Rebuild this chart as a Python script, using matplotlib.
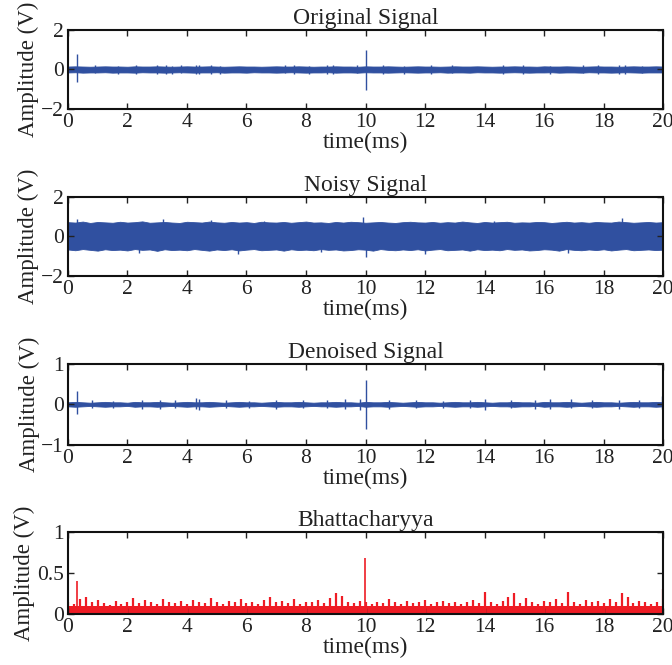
import numpy as np
import matplotlib
matplotlib.use("Agg")
import matplotlib.pyplot as plt

plt.rcParams['font.family'] = ['Liberation Serif', 'DejaVu Serif']

# ---------------- data ----------------
x_ticks = [0, 2, 4, 6, 8, 10, 12, 14, 16, 18, 20]
titles = ["Original Signal", "Noisy Signal", "Denoised Signal", "Bhattacharyya"]

# Original signal: envelope of the dense trace (0..20 ms, 0.25 ms steps)
orig_up = [0.15, 0.16, 0.15, 0.14, 0.15, 0.16, 0.15, 0.15, 0.14, 0.16, 0.15, 0.15, 0.16, 0.15, 0.14, 0.15,
           0.16, 0.15, 0.15, 0.16, 0.15, 0.14, 0.15, 0.16, 0.15, 0.15, 0.14, 0.15, 0.16, 0.15, 0.15, 0.16,
           0.15, 0.14, 0.15, 0.15, 0.16, 0.15, 0.15, 0.14, 0.16, 0.15, 0.15, 0.16, 0.15, 0.14, 0.15, 0.16,
           0.15, 0.15, 0.14, 0.15, 0.16, 0.15, 0.15, 0.16, 0.15, 0.14, 0.15, 0.15, 0.16, 0.15, 0.15, 0.14,
           0.16, 0.15, 0.15, 0.16, 0.15, 0.14, 0.15, 0.16, 0.15, 0.15, 0.14, 0.15, 0.16, 0.15, 0.15, 0.16, 0.15]
orig_lo = [-0.15, -0.14, -0.16, -0.15, -0.15, -0.14, -0.16, -0.15, -0.15, -0.16, -0.14, -0.15, -0.15, -0.16,
           -0.15, -0.14, -0.15, -0.16, -0.15, -0.15, -0.14, -0.16, -0.15, -0.15, -0.16, -0.14, -0.15, -0.15,
           -0.16, -0.15, -0.14, -0.15, -0.16, -0.15, -0.15, -0.14, -0.16, -0.15, -0.15, -0.16, -0.14, -0.15,
           -0.15, -0.16, -0.15, -0.14, -0.15, -0.16, -0.15, -0.15, -0.14, -0.16, -0.15, -0.15, -0.16, -0.14,
           -0.15, -0.15, -0.16, -0.15, -0.14, -0.15, -0.16, -0.15, -0.15, -0.14, -0.16, -0.15, -0.15, -0.16,
           -0.14, -0.15, -0.15, -0.16, -0.15, -0.14, -0.15, -0.16, -0.15, -0.15, -0.15]
orig_spike_t = [0.3, 0.9, 1.7, 2.3, 3.0, 3.3, 3.5, 3.8, 4.3, 4.4, 4.8, 5.1, 7.3, 7.6, 8.1, 8.7, 8.9, 9.7,
                10.0, 10.6, 11.3, 12.2, 12.9, 14.6, 15.3, 16.2, 17.3, 17.8, 18.5, 18.7, 19.3]
orig_spike_top = [0.77, 0.22, 0.20, 0.22, 0.21, 0.23, 0.20, 0.22, 0.21, 0.23, 0.22, 0.20, 0.21, 0.22, 0.20,
                  0.22, 0.21, 0.23, 0.99, 0.22, 0.20, 0.22, 0.21, 0.23, 0.22, 0.20, 0.21, 0.22, 0.22, 0.21, 0.20]
orig_spike_bot = [-0.62, -0.20, -0.22, -0.21, -0.23, -0.24, -0.22, -0.20, -0.21, -0.23, -0.22, -0.24, -0.20,
                  -0.22, -0.21, -0.23, -0.22, -0.20, -1.04, -0.22, -0.21, -0.23, -0.20, -0.24, -0.22, -0.21,
                  -0.20, -0.23, -0.22, -0.21, -0.20]

# Noisy signal envelope (0.25 ms steps)
noisy_up = [0.72, 0.70, 0.75, 0.68, 0.73, 0.71, 0.69, 0.74, 0.70, 0.72, 0.76, 0.69, 0.71, 0.73, 0.70, 0.68,
            0.74, 0.72, 0.70, 0.75, 0.71, 0.69, 0.73, 0.70, 0.72, 0.68, 0.74, 0.71, 0.70, 0.73, 0.69, 0.72,
            0.75, 0.70, 0.71, 0.68, 0.73, 0.70, 0.74, 0.72, 0.69, 0.71, 0.73, 0.70, 0.68, 0.72, 0.74, 0.71,
            0.70, 0.73, 0.69, 0.72, 0.70, 0.75, 0.71, 0.68, 0.73, 0.70, 0.72, 0.74, 0.69, 0.71, 0.70, 0.73,
            0.72, 0.68, 0.71, 0.74, 0.70, 0.72, 0.69, 0.73, 0.71, 0.70, 0.75, 0.72, 0.69, 0.71, 0.73, 0.70, 0.72]
noisy_lo = [-0.66, -0.70, -0.64, -0.68, -0.72, -0.65, -0.69, -0.67, -0.71, -0.64, -0.68, -0.66, -0.73,
            -0.65, -0.69, -0.67, -0.70, -0.64, -0.68, -0.72, -0.66, -0.69, -0.65, -0.71, -0.67, -0.64, -0.70,
            -0.68, -0.66, -0.72, -0.65, -0.69, -0.67, -0.70, -0.64, -0.68, -0.66, -0.71, -0.69, -0.65, -0.67,
            -0.72, -0.64, -0.68, -0.70, -0.66, -0.69, -0.65, -0.71, -0.67, -0.64, -0.70, -0.68, -0.66, -0.72,
            -0.65, -0.69, -0.67, -0.70, -0.64, -0.68, -0.66, -0.71, -0.69, -0.65, -0.67, -0.72, -0.64, -0.68,
            -0.70, -0.66, -0.69, -0.65, -0.71, -0.67, -0.64, -0.70, -0.68, -0.66, -0.69, -0.67]
noisy_spike_t = [0.3, 3.2, 4.8, 6.6, 9.9, 14.3, 18.6, 2.4, 5.7, 8.5, 10.0, 12.0, 16.8]
noisy_spike_top = [0.88, 0.88, 0.82, 0.80, 1.00, 0.80, 0.95, 0.0, 0.0, 0.0, 0.0, 0.0, 0.0]
noisy_spike_bot = [0.0, 0.0, 0.0, 0.0, 0.0, 0.0, 0.0, -0.85, -0.88, -0.80, -1.05, -0.90, -0.82]

# Denoised signal envelope (0.25 ms steps)
den_up = [0.05, 0.06, 0.05, 0.04, 0.05, 0.06, 0.05, 0.05, 0.04, 0.06, 0.05, 0.05, 0.06, 0.05, 0.04, 0.05,
          0.06, 0.05, 0.05, 0.06, 0.05, 0.04, 0.05, 0.06, 0.05, 0.05, 0.04, 0.05, 0.06, 0.05, 0.05, 0.06,
          0.05, 0.04, 0.05, 0.05, 0.06, 0.05, 0.05, 0.04, 0.06, 0.05, 0.05, 0.06, 0.05, 0.04, 0.05, 0.06,
          0.05, 0.05, 0.04, 0.05, 0.06, 0.05, 0.05, 0.06, 0.05, 0.04, 0.05, 0.05, 0.06, 0.05, 0.05, 0.04,
          0.06, 0.05, 0.05, 0.06, 0.05, 0.04, 0.05, 0.06, 0.05, 0.05, 0.04, 0.05, 0.06, 0.05, 0.05, 0.06, 0.05]
den_lo = [-v for v in den_up]
den_spike_t = [0.3, 0.8, 1.5, 2.5, 3.1, 3.6, 4.3, 4.4, 5.3, 6.1, 7.0, 7.9, 8.7, 9.3, 9.8, 10.0, 10.8,
               11.7, 12.6, 13.5, 14.0, 14.9, 15.7, 16.2, 16.9, 17.6, 18.5, 19.2, 19.97]
den_spike_top = [0.34, 0.10, 0.09, 0.10, 0.11, 0.10, 0.15, 0.12, 0.10, 0.09, 0.10, 0.11, 0.10, 0.12, 0.14,
                 0.60, 0.11, 0.10, 0.09, 0.10, 0.13, 0.10, 0.11, 0.12, 0.14, 0.10, 0.11, 0.10, 0.20]
den_spike_bot = [-0.25, -0.10, -0.09, -0.11, -0.12, -0.10, -0.12, -0.14, -0.10, -0.09, -0.11, -0.10, -0.10,
                 -0.12, -0.13, -0.60, -0.11, -0.10, -0.09, -0.10, -0.14, -0.10, -0.11, -0.12, -0.10, -0.10,
                 -0.11, -0.10, -0.12]

# Bhattacharyya: solid base level + spike heights (0.2 ms steps) + two peaks
bhat_base = 0.09
bhat_heights = [0.14, 0.12, 0.18, 0.20, 0.15, 0.17, 0.13, 0.11, 0.16, 0.12,
                0.14, 0.19, 0.13, 0.17, 0.15, 0.12, 0.18, 0.14, 0.13, 0.16,
                0.12, 0.17, 0.14, 0.13, 0.19, 0.15, 0.12, 0.16, 0.14, 0.18,
                0.13, 0.15, 0.12, 0.17, 0.20, 0.14, 0.16, 0.13, 0.18, 0.12,
                0.15, 0.14, 0.17, 0.13, 0.19, 0.26, 0.22, 0.15, 0.13, 0.16,
                0.14, 0.12, 0.15, 0.13, 0.18, 0.14, 0.12, 0.16, 0.13, 0.15,
                0.17, 0.12, 0.14, 0.16, 0.13, 0.15, 0.12, 0.14, 0.17, 0.13,
                0.27, 0.14, 0.12, 0.16, 0.20, 0.26, 0.13, 0.19, 0.15, 0.12,
                0.16, 0.14, 0.18, 0.13, 0.27, 0.15, 0.12, 0.17, 0.14, 0.16,
                0.13, 0.18, 0.15, 0.25, 0.20, 0.13, 0.16, 0.14, 0.12, 0.15,
                0.30]
bhat_peak_t = [0.3, 9.98]
bhat_peak_h = [0.40, 0.68]

# ---------------- figure ----------------
BLUE = '#3050a0'
RED = '#ee1c25'
TXT = '#222222'

fig = plt.figure(figsize=(6.72, 6.65), dpi=100)
left, width = 0.101, 0.886
rects = [(left, 0.836, width, 0.119),
         (left, 0.585, width, 0.119),
         (left, 0.331, width, 0.122),
         (left, 0.077, width, 0.123)]
ylims = [(-2, 2), (-2, 2), (-1, 1), (0, 1)]
yticks = [[-2, 0, 2], [-2, 0, 2], [-1, 0, 1], [0, 0.5, 1]]
yticklabels = [["\u22122", "0", "2"], ["\u22122", "0", "2"], ["\u22121", "0", "1"], ["0", "0.5", "1"]]

axes = [fig.add_axes(r) for r in rects]


def band(ax, up, lo, color):
    t = np.linspace(0, 20, len(up))
    ax.fill_between(t, lo, up, color=color, lw=0.6, edgecolor=color)


band(axes[0], orig_up, orig_lo, BLUE)
axes[0].vlines(orig_spike_t, orig_spike_bot, orig_spike_top, color=BLUE, lw=1.0)

band(axes[1], noisy_up, noisy_lo, BLUE)
axes[1].vlines(noisy_spike_t, noisy_spike_bot, noisy_spike_top, color=BLUE, lw=1.0)

band(axes[2], den_up, den_lo, BLUE)
axes[2].vlines(den_spike_t, den_spike_bot, den_spike_top, color=BLUE, lw=1.0)

ax = axes[3]
tb = np.linspace(0, 20, len(bhat_heights))
ax.fill_between([0, 20], [0, 0], [bhat_base, bhat_base], color=RED, lw=0)
ax.vlines(tb, 0, bhat_heights, color=RED, lw=1.6)
ax.vlines(bhat_peak_t, 0, bhat_peak_h, color=RED, lw=1.2)

for i, ax in enumerate(axes):
    ax.set_xlim(0, 20)
    ax.set_ylim(*ylims[i])
    ax.set_xticks(x_ticks)
    ax.set_xticklabels([str(v) for v in x_ticks])
    ax.set_yticks(yticks[i])
    ax.set_yticklabels(yticklabels[i])
    ax.tick_params(direction='in', top=True, right=True, length=4, width=1.0,
                   labelsize=15.5, colors=TXT)
    ax.tick_params(axis='x', pad=3)
    ax.tick_params(axis='y', pad=3)
    for s in ax.spines.values():
        s.set_linewidth(1.5)
        s.set_color('#111111')
    ax.set_title(titles[i], fontsize=17, pad=4, color=TXT)
    ax.set_xlabel("time(ms)", fontsize=17, labelpad=0, color=TXT)
    ax.set_ylabel("Amplitude (V)", fontsize=16.5, labelpad=1, color=TXT)

fig.savefig("out.png", dpi=100)
